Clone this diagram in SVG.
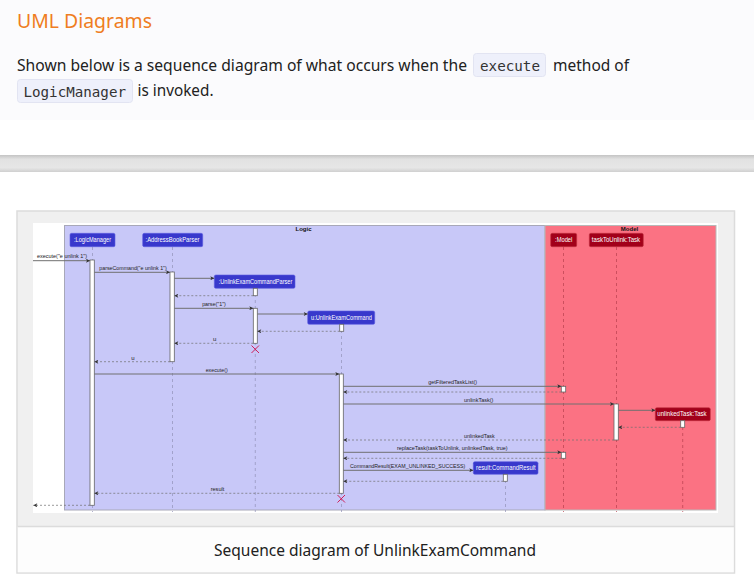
<svg xmlns="http://www.w3.org/2000/svg" width="754" height="588" viewBox="0 0 754 588">
<defs>
<linearGradient id="bar" x1="0" y1="0" x2="0" y2="1">
<stop offset="0" stop-color="#c4c4c4"/>
<stop offset="0.25" stop-color="#e2e2e2"/>
<stop offset="0.75" stop-color="#e6e6e6"/>
<stop offset="1" stop-color="#cfcfcf"/>
</linearGradient>
<marker id="ah" viewBox="0 0 6 6" refX="6" refY="3" markerWidth="5" markerHeight="4" markerUnits="userSpaceOnUse" orient="auto">
<path d="M0,0 L6,3 L0,6 L1.5,3 Z" fill="#333"/>
</marker>
</defs>
<style>
.body{font-family:"Noto Sans","Open Sans",sans-serif;fill:#212121}
.code{font-family:"DejaVu Sans Mono","Liberation Mono",monospace;font-size:14.5px;fill:#333}
.lbl{font-family:"Liberation Sans",Arial,sans-serif;font-size:6px;fill:#222}
.pt{font-family:"Liberation Sans",Arial,sans-serif;font-size:6.5px;fill:#fff}
.pl{fill:#3838cc;stroke:#5c5ce0;stroke-width:0.6}
.pm{fill:#a2001a;stroke:#c03040;stroke-width:0.6}
.act{fill:#fff;stroke:#666;stroke-width:0.8}
.msg{stroke:#707070;stroke-width:1;fill:none;marker-end:url(#ah)}
.ret{stroke:#707070;stroke-width:0.7;stroke-dasharray:2,2;fill:none;marker-end:url(#ah)}
.life{stroke:#9292b8;stroke-width:0.7;stroke-dasharray:3,3;fill:none}
.lifem{stroke:#b8404f;stroke-width:0.7;stroke-dasharray:3,3;fill:none}
.x{stroke:#d0205a;stroke-width:1;fill:none}
.grp{font-family:"Liberation Sans",Arial,sans-serif;font-size:6px;font-weight:bold;fill:#111}
</style>

<!-- page -->
<rect x="0" y="0" width="754" height="588" fill="#ffffff"/>
<rect x="0" y="0" width="754" height="120" fill="#fbfbfd"/>
<text class="body" x="17" y="28" font-size="20" style="fill:#ef7d22" textLength="135" lengthAdjust="spacingAndGlyphs">UML Diagrams</text>
<text class="body" x="17" y="71" font-size="16" textLength="450" lengthAdjust="spacingAndGlyphs">Shown below is a sequence diagram of what occurs when the</text>
<rect x="473.5" y="53.5" width="72" height="23" rx="3" fill="#eef0fb" stroke="#e2e4f2"/>
<text class="code" x="480" y="70.5" textLength="60" lengthAdjust="spacingAndGlyphs">execute</text>
<text class="body" x="553" y="71" font-size="16" textLength="76" lengthAdjust="spacingAndGlyphs">method of</text>
<rect x="17.5" y="79.5" width="115" height="23" rx="3" fill="#eef0fb" stroke="#e2e4f2"/>
<text class="code" x="23.5" y="96.5" textLength="102.5" lengthAdjust="spacingAndGlyphs">LogicManager</text>
<text class="body" x="137.5" y="96" font-size="16" textLength="76" lengthAdjust="spacingAndGlyphs">is invoked.</text>

<rect x="0" y="155" width="754" height="17" fill="url(#bar)"/>

<!-- figure frame -->
<rect x="17" y="211" width="717.5" height="362" fill="#f0f0f0" stroke="#dcdcdc" stroke-width="1.5"/>
<rect x="33" y="223" width="685" height="290" fill="#ffffff"/>
<rect x="17.75" y="526.5" width="716" height="45.75" fill="#fdfdfd"/>
<line x1="17.5" y1="526.5" x2="734" y2="526.5" stroke="#dcdcdc" stroke-width="1.5"/>
<text class="body" x="375" y="556" font-size="16" text-anchor="middle" textLength="322" lengthAdjust="spacingAndGlyphs">Sequence diagram of UnlinkExamCommand</text>

<!-- boxes -->
<g id="logic-box">
<rect x="64.5" y="225.5" width="480.5" height="284.5" fill="#c8c8f8" stroke="#a8a8b8" stroke-width="1"/>
<text class="grp" x="303.5" y="231" text-anchor="middle">Logic</text>
</g>
<g id="model-box">
<rect x="545" y="225.5" width="171" height="284.5" fill="#fb7283" stroke="#b8b8b8" stroke-width="1"/>
<text class="grp" x="629.5" y="231" text-anchor="middle">Model</text>
</g>

<!-- lifelines -->
<g id="lifelines">
<line class="life" x1="92.5" y1="247" x2="92.5" y2="512"/>
<line class="life" x1="172.5" y1="247" x2="172.5" y2="512"/>
<line class="life" x1="255.3" y1="288" x2="255.3" y2="512"/>
<line class="life" x1="341.5" y1="324" x2="341.5" y2="512"/>
<line class="life" x1="505.5" y1="474" x2="505.5" y2="512"/>
<line class="lifem" x1="563.5" y1="247" x2="563.5" y2="512"/>
<line class="lifem" x1="616.5" y1="247" x2="616.5" y2="512"/>
<line class="lifem" x1="682.7" y1="421" x2="682.7" y2="512"/>
</g>

<!-- participants -->
<g id="p-logicmanager">
<rect class="pl" x="70" y="233.3" width="45" height="13.4" rx="1.5"/>
<text class="pt" x="92.5" y="242.3" text-anchor="middle" textLength="37" lengthAdjust="spacingAndGlyphs">:LogicManager</text>
</g>
<g id="p-addressbookparser">
<rect class="pl" x="142.7" y="233.3" width="60" height="13.4" rx="1.5"/>
<text class="pt" x="172.5" y="242.3" text-anchor="middle" textLength="54" lengthAdjust="spacingAndGlyphs">:AddressBookParser</text>
</g>
<g id="p-unlinkexamcommandparser">
<rect class="pl" x="214.3" y="275" width="80.7" height="13.3" rx="1.5"/>
<text class="pt" x="255.5" y="284" text-anchor="middle" textLength="73.6" lengthAdjust="spacingAndGlyphs">:UnlinkExamCommandParser</text>
</g>
<g id="p-unlinkexamcommand">
<rect class="pl" x="307.7" y="311" width="67" height="13.3" rx="1.5"/>
<text class="pt" x="341.5" y="320" text-anchor="middle" textLength="61" lengthAdjust="spacingAndGlyphs">u:UnlinkExamCommand</text>
</g>
<g id="p-commandresult">
<rect class="pl" x="473.3" y="461.7" width="64.7" height="12.6" rx="1.5"/>
<text class="pt" x="505.8" y="470.3" text-anchor="middle" textLength="59.7" lengthAdjust="spacingAndGlyphs">result:CommandResult</text>
</g>
<g id="p-model">
<rect class="pm" x="550.7" y="233.3" width="26" height="13.4" rx="1.5"/>
<text class="pt" x="563.7" y="242.3" text-anchor="middle" textLength="17.3" lengthAdjust="spacingAndGlyphs">:Model</text>
</g>
<g id="p-tasktounlink">
<rect class="pm" x="589.3" y="233.3" width="54" height="13.4" rx="1.5"/>
<text class="pt" x="616" y="242.3" text-anchor="middle" textLength="48.3" lengthAdjust="spacingAndGlyphs">taskToUnlink:Task</text>
</g>
<g id="p-unlinkedtask">
<rect class="pm" x="655.3" y="407.7" width="55" height="13" rx="1.5"/>
<text class="pt" x="682" y="416.4" text-anchor="middle" textLength="49.3" lengthAdjust="spacingAndGlyphs">unlinkedTask:Task</text>
</g>

<!-- activations -->
<g id="activations">
<rect class="act" x="90" y="260" width="4.3" height="245.3"/>
<rect class="act" x="170" y="272" width="4.3" height="89.7"/>
<rect class="act" x="253.3" y="288.3" width="4" height="7.4"/>
<rect class="act" x="253.3" y="308.3" width="4" height="35"/>
<rect class="act" x="339.7" y="324.3" width="4" height="7"/>
<rect class="act" x="339.3" y="374" width="4" height="119.3"/>
<rect class="act" x="561.3" y="386.3" width="4.4" height="5.7"/>
<rect class="act" x="614" y="404" width="4.3" height="36"/>
<rect class="act" x="680.7" y="420.7" width="4" height="6.6"/>
<rect class="act" x="561.3" y="452.3" width="4.4" height="6"/>
<rect class="act" x="503.3" y="474.3" width="4" height="7"/>
</g>

<!-- connectors -->
<g id="connectors">
<line class="msg" x1="33" y1="260.7" x2="90" y2="260.7"/>
<text class="lbl" x="62" y="258" text-anchor="middle" textLength="50" lengthAdjust="spacingAndGlyphs">execute("e unlink 1")</text>
<line class="msg" x1="94.3" y1="272.3" x2="170" y2="272.3"/>
<text class="lbl" x="133" y="270" text-anchor="middle" textLength="67.5" lengthAdjust="spacingAndGlyphs">parseCommand("e unlink 1")</text>
<line class="msg" x1="174.3" y1="278.3" x2="214.3" y2="278.3"/>
<line class="ret" x1="253.3" y1="295.7" x2="174.3" y2="295.7"/>
<line class="msg" x1="174.3" y1="308.3" x2="253.3" y2="308.3"/>
<text class="lbl" x="214" y="306" text-anchor="middle" textLength="23.7" lengthAdjust="spacingAndGlyphs">parse("1")</text>
<line class="msg" x1="257.3" y1="314" x2="307.7" y2="314"/>
<line class="ret" x1="339.7" y1="331.3" x2="257.3" y2="331.3"/>
<line class="ret" x1="253.3" y1="343.3" x2="174.3" y2="343.3"/>
<text class="lbl" x="214.7" y="341" text-anchor="middle">u</text>
<line class="ret" x1="170" y1="361.7" x2="94.3" y2="361.7"/>
<text class="lbl" x="133" y="359.5" text-anchor="middle">u</text>
<line class="msg" x1="94.3" y1="374" x2="339.3" y2="374"/>
<text class="lbl" x="216.7" y="372" text-anchor="middle" textLength="22" lengthAdjust="spacingAndGlyphs">execute()</text>
<line class="msg" x1="343.3" y1="386.3" x2="561.3" y2="386.3"/>
<text class="lbl" x="452.7" y="384.3" text-anchor="middle" textLength="48.7" lengthAdjust="spacingAndGlyphs">getFilteredTaskList()</text>
<line class="ret" x1="561.3" y1="392" x2="343.3" y2="392"/>
<line class="msg" x1="343.3" y1="404" x2="614" y2="404"/>
<text class="lbl" x="478.7" y="402" text-anchor="middle" textLength="29.3" lengthAdjust="spacingAndGlyphs">unlinkTask()</text>
<line class="msg" x1="618.3" y1="410.3" x2="655.3" y2="410.3"/>
<line class="ret" x1="680.7" y1="427.3" x2="618.3" y2="427.3"/>
<line class="ret" x1="614" y1="440" x2="343.3" y2="440"/>
<text class="lbl" x="479.3" y="438" text-anchor="middle" textLength="30.7" lengthAdjust="spacingAndGlyphs">unlinkedTask</text>
<line class="msg" x1="343.3" y1="452.3" x2="561.3" y2="452.3"/>
<text class="lbl" x="452.3" y="450.3" text-anchor="middle" textLength="110.7" lengthAdjust="spacingAndGlyphs">replaceTask(taskToUnlink, unlinkedTask, true)</text>
<line class="ret" x1="561.3" y1="458.3" x2="343.3" y2="458.3"/>
<line class="msg" x1="343.3" y1="470.3" x2="473.3" y2="470.3"/>
<text class="lbl" x="350" y="468.3" textLength="115.3" lengthAdjust="spacingAndGlyphs">CommandResult(EXAM_UNLINKED_SUCCESS)</text>
<line class="ret" x1="503.3" y1="481.3" x2="343.3" y2="481.3"/>
<line class="ret" x1="339.3" y1="493.3" x2="94.3" y2="493.3"/>
<text class="lbl" x="217.5" y="491.3" text-anchor="middle" textLength="13.7" lengthAdjust="spacingAndGlyphs">result</text>
<line class="ret" x1="90" y1="505.3" x2="33.3" y2="505.3"/>
</g>

<!-- destroy marks -->
<g id="destroy">
<path class="x" d="M251.5,345.5 L259,353 M259,345.5 L251.5,353"/>
<path class="x" d="M337.5,495 L345,502.5 M345,495 L337.5,502.5"/>
</g>
</svg>
